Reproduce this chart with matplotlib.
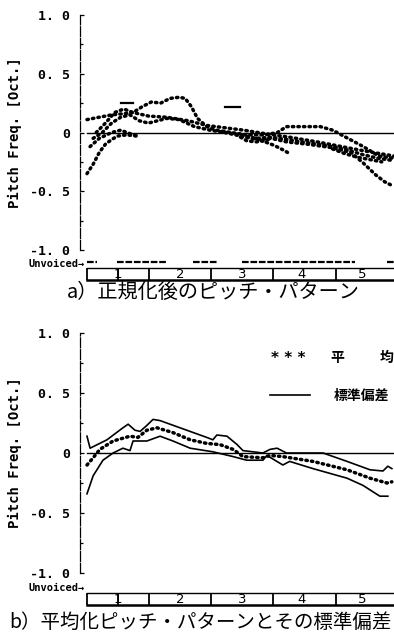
import matplotlib
matplotlib.use("Agg")
import matplotlib.pyplot as plt

plt.rcParams['font.family'] = ['Noto Sans CJK JP', 'DejaVu Sans']

# time axis is normalised 0..100 over the utterance
seg_bounds = [0, 10, 20.3, 40.3, 60.5, 81, 100]
seg_label_pos = [10, 30.3, 50.5, 70, 89.6]
seg_labels = ['1', '2', '3', '4', '5']

unvoiced_a = [(0, 3.3), (9.8, 26), (34.5, 42.3), (50.5, 87.3), (97.7, 100)]

ytick_vals = [-1.0, -0.5, 0.0, 0.5, 1.0]
ytick_text = ['-1. 0', '-0. 5', '0', '0. 5', '1. 0']

# a) normalised pitch patterns (several utterances)
pat1_t = [0, 2, 4, 6, 8, 10, 13, 16]
pat1_v = [-0.35, -0.27, -0.17, -0.10, -0.06, -0.03, -0.02, -0.03]
pat2_t = [0, 4, 8, 12, 15, 20, 26, 33, 39, 45, 51, 58, 66, 75, 85, 91, 100]
pat2_v = [0.11, 0.13, 0.15, 0.16, 0.17, 0.14, 0.13, 0.10, 0.06, 0.04, 0.02, -0.01, -0.04, -0.08, -0.13, -0.16, -0.20]
pat3_t = [3, 6, 9, 12, 15, 18, 21, 24, 27, 30, 32, 34, 36, 39, 42, 47, 52, 58, 62, 65, 70, 76, 80, 85, 90, 95, 100]
pat3_v = [0.0, 0.08, 0.17, 0.20, 0.17, 0.22, 0.26, 0.25, 0.29, 0.30, 0.29, 0.22, 0.12, 0.05, 0.02, 0.0, -0.02, -0.02, 0.0, 0.05, 0.05, 0.05, 0.02, -0.05, -0.12, -0.20, -0.22]
pat4_t = [2, 5, 8, 11, 14, 17, 20, 23, 26, 30, 35, 40, 45, 50, 55, 60, 65, 72, 80, 86, 90, 94, 97, 100]
pat4_v = [-0.05, 0.0, 0.08, 0.13, 0.15, 0.10, 0.08, 0.10, 0.12, 0.11, 0.05, 0.02, 0.0, -0.03, -0.06, -0.05, -0.08, -0.10, -0.13, -0.17, -0.26, -0.36, -0.42, -0.46]
pat5_t = [1, 4, 8, 11, 14, 17]
pat5_v = [-0.12, -0.05, 0.0, 0.02, -0.01, -0.03]
pat6_t = [45, 50, 55, 60, 65, 70, 75, 80, 85, 90, 95, 100]
pat6_v = [0.0, -0.02, -0.05, -0.04, -0.06, -0.08, -0.10, -0.12, -0.15, -0.19, -0.22, -0.24]
pat7_t = [55, 58, 61, 64, 66]
pat7_v = [-0.05, -0.08, -0.11, -0.15, -0.18]
pat8_t = [80, 84, 88, 92, 96]
pat8_v = [-0.14, -0.18, -0.21, -0.23, -0.25]
pat9_t = [50, 52, 55, 58, 60]
pat9_v = [-0.04, -0.07, -0.08, -0.07, -0.05]
dash_t = [(11, 15), (45, 50)]
dash_v = [0.25, 0.22]

# b) averaged pattern and standard deviation
mean_t = [0, 2, 4.2, 8.5, 14, 16.6, 19.5, 22.8, 28, 33.6, 39, 43.3, 47.6, 50.8, 57.3, 59.6, 63.8, 73.6, 84.7, 92.2, 97.7, 99.3]
mean_v = [-0.10, -0.04, 0.03, 0.10, 0.14, 0.13, 0.19, 0.21, 0.17, 0.11, 0.08, 0.07, 0.03, -0.03, -0.04, -0.02, -0.03, -0.07, -0.14, -0.21, -0.25, -0.24]
upper_t = [0, 1, 6.5, 11.7, 13.4, 15.6, 17.3, 19.5, 21.5, 23.8, 30.3, 39, 41, 42.3, 45.6, 48.9, 50.8, 57.3, 59.6, 61.9, 65, 76.9, 84.7, 92.2, 96.4, 98, 99.3]
upper_v = [0.14, 0.04, 0.11, 0.21, 0.24, 0.19, 0.18, 0.23, 0.28, 0.27, 0.21, 0.13, 0.11, 0.15, 0.14, 0.07, 0.02, 0.0, 0.03, 0.04, 0.0, 0.0, -0.07, -0.14, -0.15, -0.11, -0.13]
lower_t = [0, 2, 5.2, 8.5, 11.7, 14, 15, 19.5, 23.8, 28, 33.6, 41, 47.6, 52, 57.3, 58.6, 63.8, 66, 73.6, 84.7, 89.9, 95.4, 98]
lower_v = [-0.34, -0.19, -0.06, 0.0, 0.04, 0.02, 0.10, 0.10, 0.14, 0.10, 0.04, 0.01, -0.03, -0.06, -0.06, -0.02, -0.10, -0.07, -0.13, -0.21, -0.27, -0.36, -0.36]

W, H = 394, 635
fig = plt.figure(figsize=(W / 100, H / 100), dpi=100)
mono = 'DejaVu Sans Mono'
dotted = dict(color='k', lw=2.5, ls=(0, (0.4, 1.2)), dash_capstyle='round')


def setup_axes(top_px, bot_px):
    ax = fig.add_axes([80 / W, 1 - bot_px / H, 314 / W, (bot_px - top_px) / H])
    ax.set_xlim(-2.28, 100)
    ax.set_ylim(-1.0, 1.0)
    for s in ['top', 'right', 'bottom']:
        ax.spines[s].set_visible(False)
    ax.spines['left'].set_linewidth(0.9)
    ax.spines['left'].set_linestyle((0, (8, 1.5)))
    ax.set_xticks([])
    ax.set_yticks(ytick_vals)
    ax.set_yticklabels(ytick_text, fontfamily=mono, fontweight='bold', fontsize=9.5)
    ax.set_yticks([-0.75, -0.25, 0.25, 0.75], minor=True)
    ax.tick_params(axis='y', which='major', direction='in', length=3, pad=7, width=0.9)
    ax.tick_params(axis='y', which='minor', direction='in', length=2, width=0.9)
    ax.set_ylabel('Pitch Freq. [Oct.]', fontfamily=mono, fontweight='bold', fontsize=10)
    ax.yaxis.set_label_coords(-0.185, 0.5)
    ax.plot([0, 100], [0, 0], color='k', lw=1.0)
    return ax


def segment_bar(y_top_px, y_bot_px):
    bx = fig.add_axes([80 / W, 1 - y_bot_px / H, 314 / W, (y_bot_px - y_top_px) / H])
    bx.set_xlim(-2.28, 100)
    bx.set_ylim(0, 1)
    bx.axis('off')
    bx.plot([0, 101], [1, 1], color='k', lw=1.0, clip_on=False)
    bx.plot([0, 101], [0, 0], color='k', lw=1.8, clip_on=False)
    for b in seg_bounds[:-1]:
        bx.plot([b, b], [0, 1], color='k', lw=1.3)
    for p, lab in zip(seg_label_pos, seg_labels):
        bx.text(p, 0.45, lab, ha='center', va='center', fontsize=9.5, fontfamily='DejaVu Sans')
    return bx


# ---- a) ----
ax1 = setup_axes(15, 250)
for tt, vv in [(pat1_t, pat1_v), (pat2_t, pat2_v), (pat3_t, pat3_v), (pat4_t, pat4_v),
               (pat5_t, pat5_v), (pat6_t, pat6_v), (pat7_t, pat7_v), (pat8_t, pat8_v),
               (pat9_t, pat9_v)]:
    ax1.plot(tt, vv, **dotted)
for (t0, t1), v in zip(dash_t, dash_v):
    ax1.plot([t0, t1], [v, v], color='k', lw=1.6)
for t0, t1 in unvoiced_a:
    ax1.plot([t0, t1], [-1.106, -1.106], color='k', lw=1.6, ls=(0, (3, 0.8)), clip_on=False)
segment_bar(268, 280)
fig.text(85 / W, 1 - 264 / H, 'Unvoiced\u2192', ha='right', va='center',
         fontfamily=mono, fontweight='bold', fontsize=7.5)
fig.text(213 / W, 1 - 293 / H, 'a）正規化後のピッチ・パターン', ha='center', va='center', fontsize=14.5)

# ---- b) ----
ax2 = setup_axes(333, 573)
ax2.plot(upper_t, upper_v, color='k', lw=1.2)
ax2.plot(lower_t, lower_v, color='k', lw=1.2)
ax2.plot(mean_t, mean_v, **dotted)
# legend
ax2.text(65.5, 0.79, '* * *', ha='center', va='center', fontsize=11, fontweight='bold', fontfamily='DejaVu Sans')
ax2.text(81.4, 0.79, '平', ha='center', va='center', fontsize=10, fontweight='bold')
ax2.text(97.7, 0.79, '均', ha='center', va='center', fontsize=10, fontweight='bold')
ax2.plot([59.6, 72.6], [0.48, 0.48], color='k', lw=1.2)
ax2.text(89.3, 0.48, '標準偏差', ha='center', va='center', fontsize=10, fontweight='bold')
segment_bar(593, 605)
fig.text(85 / W, 1 - 588 / H, 'Unvoiced\u2192', ha='right', va='center',
         fontfamily=mono, fontweight='bold', fontsize=7.5)
fig.text(200 / W, 1 - 622 / H, 'b）平均化ピッチ・パターンとその標準偏差', ha='center', va='center', fontsize=14)

fig.savefig('out.png', dpi=100)
